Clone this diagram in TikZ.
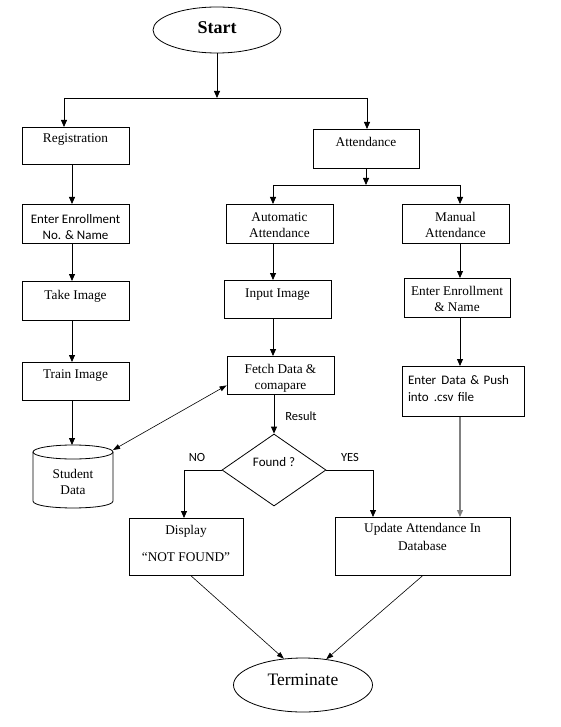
\documentclass[tikz,border=0pt]{standalone}
\usepackage{fontspec}
\setmainfont{Liberation Serif}
\newfontfamily\calib{Carlito}
\usetikzlibrary{calc,arrows.meta,shapes.geometric}

\begin{document}
\begin{tikzpicture}[x=1pt, y=-1pt, line width=0.8pt,
    box/.style={draw, rectangle, anchor=north, inner xsep=2pt, inner ysep=0pt, align=center, minimum width=107pt, font=\fontsize{13.3}{15.5}\selectfont},
    sansbox/.style={box, font=\calib\fontsize{13}{16}\selectfont},
    lbl/.style={font=\calib\fontsize{12.5}{15}\selectfont, inner sep=0pt},
    arr/.style={-{Stealth[length=7pt,width=6pt,inset=0pt]}},
    slimarr/.style={line width=0.6pt, -{Stealth[length=7pt,width=5pt,inset=0pt]}},
    bothsarr/.style={line width=0.6pt, {Stealth[length=7pt,width=5pt,inset=0pt]}-{Stealth[length=7pt,width=5pt,inset=0pt]}}]
    \useasboundingbox (0,0) rectangle (560,727);

    % start / end
    \node[draw, ellipse, minimum width=128pt, minimum height=46pt, inner sep=0pt, text depth=4pt, font=\bfseries\fontsize{18}{20}\selectfont] (start) at (217,30) {Start};
    \node[draw, ellipse, minimum width=139pt, minimum height=54pt, inner sep=0pt, text depth=10pt, font=\fontsize{17.5}{20}\selectfont] (term) at (303,685) {Terminate};

    % left column
    \node[box, text height=15pt, text depth=22pt] (reg) at (75.5,127) {Registration};
    \node[sansbox, text height=35pt, text depth=4pt] (enr) at (75.5,204) {Enter Enrollment\\No. \& Name};
    \node[box, text height=18pt, text depth=21pt] (take) at (75.5,281) {Take Image};
    \node[box, text height=16pt, text depth=22pt] (train) at (75.5,362) {Train Image};
    % database
    \path[draw] (33,452) -- (33,501) .. controls (33,510.3) and (113,510.3) .. (113,501) -- (113,452);
    \path[draw] (73,452) ellipse [x radius=40pt, y radius=7pt];
    \node[align=center, inner sep=0pt, font=\fontsize{13.3}{15.5}\selectfont] (data) at (73,482) {Student\\Data};

    % right part
    \node[box, minimum width=106pt, text height=17pt, text depth=22pt] (att) at (366,129) {Attendance};
    \node[box, text height=33pt, text depth=6pt] (auto) at (279.5,204) {Automatic\\Attendance};
    \node[box, text height=33pt, text depth=6pt] (manual) at (455.5,204) {Manual\\Attendance};
    \node[box, text height=17pt, text depth=21pt] (input) at (277.5,280) {Input Image};
    \node[box, text height=33pt, text depth=5pt] (fetch) at (280.5,356) {Fetch Data \&\\comapare};
    \node[box, minimum width=106pt, text height=33pt, text depth=6pt] (enr2) at (457,278) {Enter Enrollment\\\& Name};
    \node[sansbox, text width=110pt, align=left, inner xsep=6pt, text height=18pt, text depth=32pt, font=\calib\fontsize{13}{17}\selectfont] (push) at (463,366) {Enter\hspace{0.4em}Data \& Push\\into\hspace{0.4em}.csv file};
    \node[draw, diamond, minimum width=104pt, minimum height=72pt, inner sep=0pt, text height=5pt, text depth=12pt, font=\calib\fontsize{13}{16}\selectfont] (found) at (274,470) {Found ?};
    \node[box, minimum width=114pt, text height=43pt, text depth=14pt] (disp) at (186,518) {Display\\[11pt]``NOT FOUND''};
    \node[box, minimum width=175pt, text height=33pt, text depth=25pt] (upd) at (422.5,517) {Update Attendance In\\[2pt]Database};

    \node[lbl] (res) at (301,416) {Result};
    \node[lbl] (no) at (197,457) {NO};
    \node[lbl] (yes) at (350,457) {YES};

    % helper points
    \coordinate (j1) at (217,98);
    \coordinate (j1l) at (64,98);
    \coordinate (j1r) at (367,98);
    \coordinate (j2) at (366,185);
    \coordinate (j2l) at (273,185);
    \coordinate (j2r) at (460,185);
    \coordinate (lcol) at (72,0);
    \coordinate (nox) at (184,0);
    \coordinate (yesx) at (373,0);
    \coordinate (dbtop) at (72,445);
    \coordinate (dbend) at (113,450);

    % connectors
    \path[draw, arr] (start.south) -- (j1);
    \path[draw] (j1l) -- (j1r);
    \path[draw, arr] (j1l) -- (j1l |- reg.north);
    \path[draw, arr] (j1r) -- (j1r |- att.north);
    \path[draw, arr] (reg.south -| lcol) -- (enr.north -| lcol);
    \path[draw, arr] (enr.south -| lcol) -- (take.north -| lcol);
    \path[draw, arr] (take.south -| lcol) -- (train.north -| lcol);
    \path[draw, arr] (train.south -| lcol) -- (dbtop);
    \path[draw, arr] (att.south) -- (j2);
    \path[draw] (j2l) -- (j2r);
    \path[draw, arr] (j2l) -- (j2l |- auto.north);
    \path[draw, arr] (j2r) -- (j2r |- manual.north);
    \path[draw, arr] (auto.south -| j2l) -- (input.north -| j2l);
    \path[draw, arr] (input.south -| j2l) -- (fetch.north -| j2l);
    \path[draw, arr] (fetch.south -| found.north) -- (found.north);
    \path[draw, arr] (manual.south -| j2r) -- (enr2.north -| j2r);
    \path[draw, arr] (enr2.south -| j2r) -- (push.north -| j2r);
    \path[draw, arr, gray, line width=1.3pt] (push.south -| j2r) -- (upd.north -| j2r);
    \path[draw, arr] (found.west) -| (disp.north -| nox);
    \path[draw, arr] (found.east) -| (upd.north -| yesx);
    \path[draw, bothsarr] (dbend) -- ([yshift=-10pt]fetch.west);
    \path[draw, slimarr] ([xshift=5pt]disp.south) -- (term.126);
    \path[draw, slimarr] (upd.south) -- (term.48);
\end{tikzpicture}
\end{document}
